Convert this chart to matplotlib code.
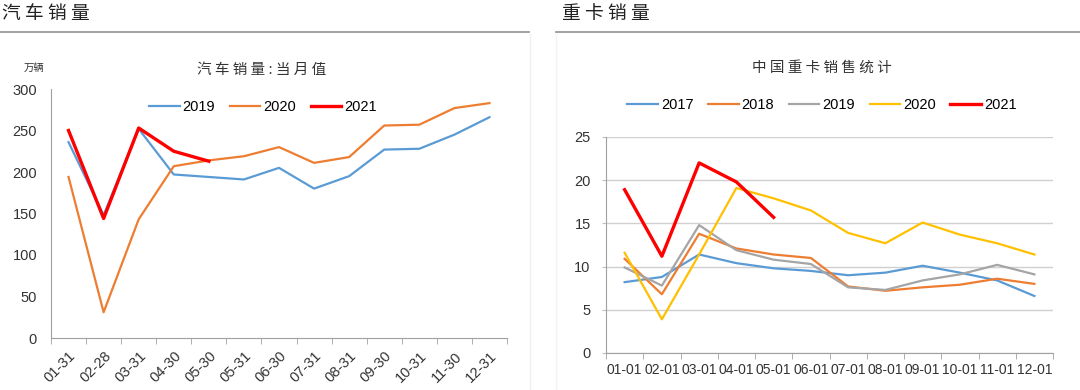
import numpy as np
import matplotlib.pyplot as plt
from matplotlib.lines import Line2D

plt.rcParams['font.family'] = ['Liberation Sans', 'Noto Sans CJK SC', 'DejaVu Sans']
CJK = ['Noto Sans CJK SC', 'DejaVu Sans']

# left chart: car sales, 万辆
car_dates = ["01-31", "02-28", "03-31", "04-30", "05-30", "05-31", "06-30",
             "07-31", "08-31", "09-30", "10-31", "11-30", "12-31"]
car_2019 = [236, 148, 252, 197, 194, 191, 205, 180, 195, 227, 228, 245, 266]
car_2020 = [194, 31, 143, 207, 214, 219, 230, 211, 218, 256, 257, 277, 283]
car_2021 = [250, 144, 253, 225, 213]

# right chart: heavy truck sales
hv_dates = ["01-01", "02-01", "03-01", "04-01", "05-01", "06-01",
            "07-01", "08-01", "09-01", "10-01", "11-01", "12-01"]
hv_2017 = [8.2, 8.8, 11.4, 10.4, 9.8, 9.5, 9.0, 9.3, 10.1, 9.3, 8.4, 6.6]
hv_2018 = [10.9, 6.8, 13.8, 12.1, 11.4, 11.0, 7.7, 7.2, 7.6, 7.9, 8.6, 8.0]
hv_2019 = [9.9, 7.8, 14.8, 11.9, 10.8, 10.3, 7.6, 7.3, 8.4, 9.1, 10.2, 9.1]
hv_2020 = [11.6, 3.9, 11.4, 19.1, 17.9, 16.5, 13.9, 12.7, 15.1, 13.7, 12.7, 11.4]
hv_2021 = [18.9, 11.2, 22.0, 19.8, 15.7]

fig = plt.figure(figsize=(10.8, 3.9), dpi=100)
W, H = 1080, 390

# section headers
fig.text(2 / W, 1 - 13 / H, "汽 车 销 量", family=CJK, fontsize=13.5, va='center', color='#222222')
fig.text(562 / W, 1 - 13 / H, "重 卡 销 量", family=CJK, fontsize=13.5, va='center', color='#222222')
fig.add_artist(Line2D([0, 529 / W], [1 - 32 / H] * 2, color='#9a9a9a', lw=1.3))
fig.add_artist(Line2D([556 / W, 1], [1 - 32 / H] * 2, color='#9a9a9a', lw=1.3))
fig.add_artist(Line2D([530 / W] * 2, [0, 1 - 34 / H], color='#f0f0f0', lw=1))
fig.add_artist(Line2D([556 / W] * 2, [0, 1 - 34 / H], color='#f3f3f3', lw=1))

# ---- left chart
ax1 = fig.add_axes([51 / W, 1 - 338 / H, (507 - 51) / W, (338 - 89) / H])
x1 = np.arange(len(car_dates))
ax1.plot(x1, car_2019, color='#5B9BD5', lw=1.6, label='2019')
ax1.plot(x1, car_2020, color='#ED7D31', lw=1.6, label='2020')
ax1.plot(x1[:len(car_2021)], car_2021, color='#FF0000', lw=2.4, label='2021')
ax1.set_xlim(-0.5, len(car_dates) - 0.5)
ax1.set_ylim(0, 300)
ax1.set_yticks(range(0, 301, 50))
ax1.set_xticks(x1)
ax1.set_xticklabels(car_dates, rotation=45, ha='right', rotation_mode='anchor')
ax1.set_xticks(np.arange(-0.5, len(car_dates)), minor=True)
ax1.tick_params(axis='x', which='major', length=0, pad=8, labelsize=10.5, colors='#333333')
ax1.tick_params(axis='x', which='minor', length=4, color='#a0a0a0')
ax1.tick_params(axis='y', length=0, labelsize=10.5, colors='#333333', pad=10)
for s in ['top', 'right']:
    ax1.spines[s].set_visible(False)
for s in ['left', 'bottom']:
    ax1.spines[s].set_color('#a0a0a0')
ax1.legend(loc='center', bbox_to_anchor=((263 - 51) / 456, (338 - 107) / (338 - 89)),
           ncol=3, frameon=False, fontsize=10.5, handlelength=2.1, columnspacing=1.0,
           handletextpad=0.2)
fig.text(262 / W, 1 - 70 / H, "汽 车 销 量 : 当 月 值", family=CJK, fontsize=10.5, ha='center',
         va='center', color='#333333')
fig.text(34 / W, 1 - 68 / H, "万辆", family=CJK, fontsize=7.5, ha='center', va='center', color='#333333')

# ---- right chart
ax2 = fig.add_axes([606 / W, 1 - 353 / H, (1053 - 606) / W, (353 - 137) / H])
x2 = np.arange(len(hv_dates))
ax2.plot(x2, hv_2017, color='#5B9BD5', lw=1.6, label='2017')
ax2.plot(x2, hv_2018, color='#ED7D31', lw=1.6, label='2018')
ax2.plot(x2, hv_2019, color='#A5A5A5', lw=1.6, label='2019')
ax2.plot(x2, hv_2020, color='#FFC000', lw=1.6, label='2020')
ax2.plot(x2[:len(hv_2021)], hv_2021, color='#FF0000', lw=2.4, label='2021')
ax2.set_xlim(-0.5, len(hv_dates) - 0.5)
ax2.set_ylim(0, 25)
ax2.set_yticks(range(0, 26, 5))
ax2.grid(axis='y', color='#d0d0d0', lw=1)
ax2.set_axisbelow(True)
ax2.set_xticks(x2)
ax2.set_xticklabels(hv_dates)
ax2.set_xticks(np.arange(-0.5, len(hv_dates)), minor=True)
ax2.tick_params(axis='x', which='major', length=0, pad=7, labelsize=10, colors='#333333')
ax2.tick_params(axis='x', which='minor', length=4, color='#a0a0a0')
ax2.tick_params(axis='y', length=3, color='#c0c0c0', labelsize=10.5, colors='#333333', pad=8)
for s in ['top', 'right']:
    ax2.spines[s].set_visible(False)
for s in ['left', 'bottom']:
    ax2.spines[s].set_color('#a0a0a0')
ax2.legend(loc='center', bbox_to_anchor=((822 - 606) / 447, (353 - 105) / (353 - 137)), ncol=5,
           frameon=False, fontsize=10.5, handlelength=2.1, columnspacing=1.0, handletextpad=0.2)
fig.text(822 / W, 1 - 68 / H, "中 国 重 卡 销 售 统 计", family=CJK, fontsize=10.5, ha='center',
         va='center', color='#333333')

fig.savefig('out.png', dpi=100)
